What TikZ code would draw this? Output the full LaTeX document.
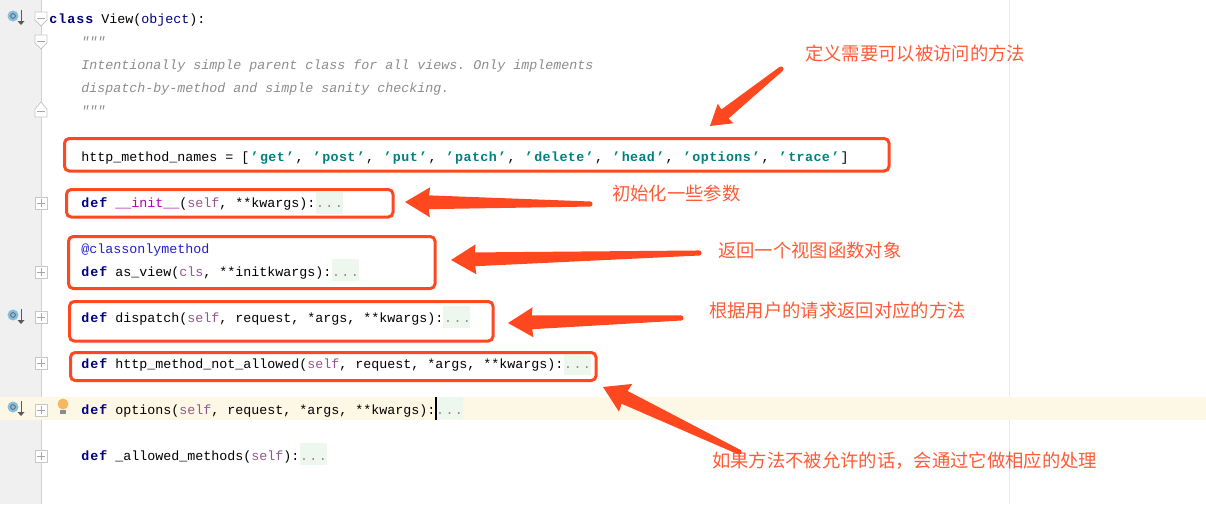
\documentclass[tikz,border=0pt]{standalone}
\usepackage{fontspec}
\setmonofont{Liberation Mono}
\newfontfamily\cjk{Noto Sans CJK SC}
\usetikzlibrary{calc}

\definecolor{notered}{HTML}{FF4820}
\definecolor{notetext}{HTML}{FF5A36}
\definecolor{kwblue}{HTML}{000080}
\definecolor{selfpurple}{HTML}{94558D}
\definecolor{strteal}{HTML}{008080}
\definecolor{magicpink}{HTML}{B200B2}
\definecolor{decoblue}{HTML}{2020C0}
\definecolor{docgray}{HTML}{8C8C8C}
\definecolor{foldgreen}{HTML}{EDF7ED}
\definecolor{caretyellow}{HTML}{FDF8E6}
\definecolor{iconblue}{HTML}{87BEE0}
\definecolor{bulborange}{HTML}{F4B860}

\newcommand{\kw}[1]{\textcolor{kwblue}{\bfseries\addfontfeature{LetterSpace=7.5}#1}}
\newcommand{\slf}[1]{\textcolor{selfpurple}{#1}}
\newcommand{\qt}{\makebox[8.05pt][c]{’}}
\newcommand{\strg}[1]{\textcolor{strteal}{\bfseries\qt\addfontfeature{LetterSpace=3}#1\qt}}
\newcommand{\onedot}{\makebox[7.1pt][c]{.}}
\newcommand{\fold}{\textcolor{docgray}{\onedot\onedot\onedot}}

% tail, tip, head length, head half width (pt)
\newcommand{\fatarrow}[4]{
    \coordinate (n) at ($(#2)!#3!(#1)$);
    \coordinate (m) at ($(#2)!#3*0.96!(#1)$);
    \fill[notered] (#2) -- ($(n)!#4!90:(#2)$) -- ($(m)!#4*0.46!90:(#2)$)
        -- ($(#1)!1.9pt!90:(#2)$) -- ($(#1)!1.9pt!-90:(#2)$)
        -- ($(m)!#4*0.46!-90:(#2)$) -- ($(n)!#4!-90:(#2)$) -- cycle;
    \fill[notered] (#1) circle (1.9pt);
}

\begin{document}
\begin{tikzpicture}[
    x=0.75pt, y=-0.75pt,
    code/.style={anchor=base west, inner sep=0pt, font=\fontsize{10}{12}\ttfamily},
    doc/.style={code, text=docgray, font=\fontsize{10}{12}\ttfamily\itshape},
    note/.style={anchor=west, inner sep=0pt, text=notetext, font=\fontsize{13.75}{16}\cjk},
    notebox/.style={draw=notered, line width=2.25pt, rounded corners=3.5pt},
    marker/.style={draw=black!22, fill=white, line width=0.6pt}
]
\useasboundingbox (0,0) rectangle (1206,504);

% Gutter and margin
\fill[black!6] (0,0) rectangle (41,504);
\draw[black!18, line width=0.9pt] (41.5,0) -- (41.5,504);
\draw[black!9, line width=0.75pt] (1009.5,0) -- (1009.5,504);
\fill[caretyellow] (0,397) rectangle (1206,420);

% Folded regions
\foreach \x/\y in {316/192, 332/259, 443/306, 564/353, 436/397, 300/443} {
    \fill[foldgreen] (\x,\y) rectangle ++(27,22);
}

% Fold markers
\foreach \y in {203,272,317,363,410,456} {
    \draw[marker] (35,\y-6) rectangle ++(12,12);
    \draw[black!35, line width=0.6pt] (37,\y) -- (45,\y) (41,\y-4) -- (41,\y+4);
}
\foreach \y in {12,35} {
    \draw[marker] (35,\y) -- (47,\y) -- (47,\y+8) -- (41,\y+14) -- (35,\y+8) -- cycle;
    \draw[black!35, line width=0.6pt] (37,\y+6) -- (45,\y+6);
}
\draw[marker] (35,117) -- (47,117) -- (47,109) -- (41,102) -- (35,109) -- cycle;
\draw[black!35, line width=0.6pt] (37,111) -- (45,111);

% Override icons
\foreach \y in {16,315,407} {
    \fill[iconblue] (13,\y) circle (5.5);
    \draw[black!65, line width=0.5pt] (13,\y) circle (2.4);
    \draw[black!65, line width=0.75pt] (21,\y-6) -- (21,\y+6);
    \fill[black!65] (17.5,\y+5) -- (24.5,\y+5) -- (21,\y+9) -- cycle;
}

% Bulb
\fill[bulborange] (63,404) circle (5.5);
\fill[black!45] (60,410) rectangle (66,414);

% Code
\node[code] (classLine) at (49,23) {\kw{class} View(\textcolor{kwblue}{object}):};
\node[doc] (docOpen) at (81,46) {"""};
\node[doc] (docOne) at (81,69) {Intentionally simple parent class for all views. Only implements};
\node[doc] (docTwo) at (81,92) {dispatch-by-method and simple sanity checking.};
\node[doc] (docClose) at (81,115) {"""};
\node[code] (namesLine) at (81,161) {http\_method\_names = [\strg{get}, \strg{post}, \strg{put}, \strg{patch}, \strg{delete}, \strg{head}, \strg{options}, \strg{trace}]};
\node[code] (initLine) at (81,207) {\kw{def} \textcolor{magicpink}{\_\_init\_\_}(\slf{self}, **kwargs):\fold};
\node[code] (decoLine) at (81,253) {\textcolor{decoblue}{@classonlymethod}};
\node[code] (viewLine) at (81,276) {\kw{def} as\_view(\slf{cls}, **initkwargs):\fold};
\node[code] (dispatchLine) at (81,322) {\kw{def} dispatch(\slf{self}, request, *args, **kwargs):\fold};
\node[code] (notAllowedLine) at (81,368) {\kw{def} http\_method\_not\_allowed(\slf{self}, request, *args, **kwargs):\fold};
\node[code] (optionsLine) at (81,414) {\kw{def} options(\slf{self}, request, *args, **kwargs):\fold};
\node[code] (allowedLine) at (81,460) {\kw{def} \_allowed\_methods(\slf{self}):\fold};

% Caret
\fill[black] (435,397) rectangle (437,420);

% Red boxes
\draw[notebox] (64.5,138.5) rectangle (889,171);
\draw[notebox] (66.5,189.5) rectangle (393,217);
\draw[notebox] (68.5,236.5) rectangle (435,288.5);
\draw[notebox] (69.5,301.5) rectangle (493,341);
\draw[notebox] (70.5,352.5) rectangle (596,380.5);

% Notes
\node[note] (noteNames) at (805,54) {定义需要可以被访问的方法};
\node[note] (noteInit) at (612,194) {初始化一些参数};
\node[note] (noteView) at (718,251) {返回一个视图函数对象};
\node[note] (noteDispatch) at (709,311) {根据用户的请求返回对应的方法};
\node[note] (noteNotAllowed) at (712,461) {如果方法不被允许的话，会通过它做相应的处理};

% Arrows
\coordinate (tailNames) at (781,69);
\coordinate (tipNames) at (710,126);
\coordinate (tailInit) at (590,204);
\coordinate (tipInit) at (405,202);
\coordinate (tailView) at (699,253);
\coordinate (tipView) at (451,260);
\coordinate (tailDispatch) at (681,318);
\coordinate (tipDispatch) at (508,323);
\coordinate (tailNotAllowed) at (739,452);
\coordinate (tipNotAllowed) at (603,387);
\fatarrow{tailNames}{tipNames}{15pt}{9.4pt}
\fatarrow{tailInit}{tipInit}{18.75pt}{11.25pt}
\fatarrow{tailView}{tipView}{18.75pt}{11.25pt}
\fatarrow{tailDispatch}{tipDispatch}{18.75pt}{11.25pt}
\fatarrow{tailNotAllowed}{tipNotAllowed}{18.75pt}{11.5pt}

\end{tikzpicture}
\end{document}
